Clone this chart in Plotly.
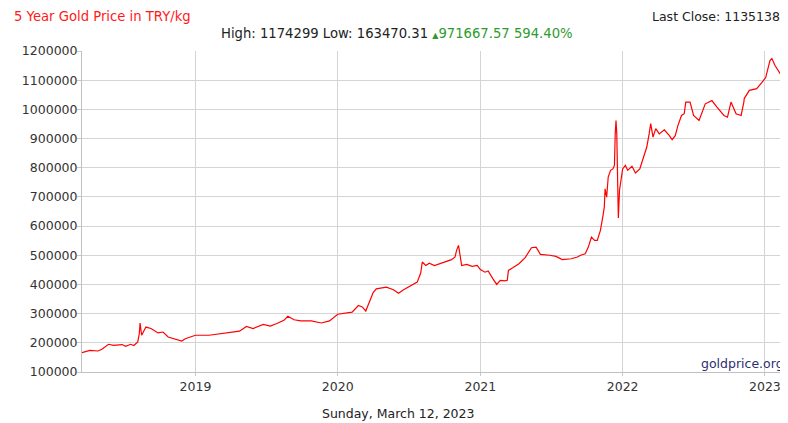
import plotly.graph_objects as go

dates = [
    "2018-03-16", "2018-04-05", "2018-04-26", "2018-05-06", "2018-05-23", "2018-06-05", "2018-06-27",
    "2018-07-06", "2018-07-19", "2018-07-27", "2018-08-06", "2018-08-10", "2018-08-12", "2018-08-16",
    "2018-08-27", "2018-09-09", "2018-09-27", "2018-10-10", "2018-10-23", "2018-11-09", "2018-11-27",
    "2018-12-06", "2019-01-01", "2019-02-05", "2019-02-22", "2019-03-12", "2019-03-29", "2019-04-24",
    "2019-05-12", "2019-05-29", "2019-06-24", "2019-07-12", "2019-07-29", "2019-08-16", "2019-08-26",
    "2019-09-11", "2019-09-28", "2019-10-25", "2019-11-20", "2019-12-11", "2020-01-01", "2020-01-20",
    "2020-02-07", "2020-02-23", "2020-03-04", "2020-03-13", "2020-03-22", "2020-04-01", "2020-04-09",
    "2020-04-22", "2020-05-05", "2020-05-23", "2020-06-05", "2020-06-18", "2020-07-14", "2020-07-23",
    "2020-08-01", "2020-08-05", "2020-08-14", "2020-08-23", "2020-09-05", "2020-09-23", "2020-10-06",
    "2020-10-19", "2020-10-28", "2020-11-01", "2020-11-06", "2020-11-10", "2020-11-14", "2020-11-27",
    "2020-12-11", "2020-12-24", "2021-01-01", "2021-01-13", "2021-01-21", "2021-02-02", "2021-02-12",
    "2021-02-21", "2021-03-05", "2021-03-11", "2021-03-14", "2021-03-25", "2021-04-10", "2021-04-26",
    "2021-05-12", "2021-05-24", "2021-06-04", "2021-06-28", "2021-07-14", "2021-07-30", "2021-08-22",
    "2021-09-07", "2021-09-15", "2021-09-27", "2021-10-05", "2021-10-13", "2021-10-21", "2021-10-28",
    "2021-11-05", "2021-11-11", "2021-11-15", "2021-11-17", "2021-11-21", "2021-11-25", "2021-12-01",
    "2021-12-07", "2021-12-11", "2021-12-13", "2021-12-15", "2021-12-17", "2021-12-19", "2021-12-21",
    "2021-12-24", "2021-12-28", "2022-01-01", "2022-01-08", "2022-01-14", "2022-01-25", "2022-02-03",
    "2022-02-14", "2022-02-25", "2022-03-04", "2022-03-10", "2022-03-14", "2022-03-20", "2022-03-27",
    "2022-04-05", "2022-04-18", "2022-05-01", "2022-05-08", "2022-05-16", "2022-05-23", "2022-06-01",
    "2022-06-08", "2022-06-12", "2022-06-23", "2022-07-02", "2022-07-16", "2022-08-01", "2022-08-18",
    "2022-08-31", "2022-09-18", "2022-09-27", "2022-10-06", "2022-10-19", "2022-11-01", "2022-11-08",
    "2022-11-09", "2022-11-22", "2022-12-11", "2022-12-24", "2023-01-03", "2023-01-14", "2023-01-19",
    "2023-01-27", "2023-02-04", "2023-02-12", "2023-02-19",
]

prices = [
    166000, 174000, 172000, 178000, 195000, 191000, 194000,
    188000, 195000, 191000, 203000, 231000, 268000, 226000,
    254000, 249000, 234000, 237000, 220000, 214000, 206000,
    214000, 226000, 226000, 229000, 231000, 235000, 240000,
    256000, 249000, 263000, 257000, 266000, 277000, 291000,
    279000, 275000, 275000, 268000, 275000, 298000, 302000,
    305000, 328000, 323000, 309000, 340000, 372000, 385000,
    388000, 391000, 382000, 370000, 382000, 400000, 408000,
    439000, 477000, 465000, 473000, 465000, 473000, 480000,
    485000, 494000, 517000, 534000, 494000, 465000, 469000,
    462000, 465000, 451000, 442000, 446000, 420000, 400000,
    414000, 412000, 414000, 448000, 457000, 471000, 492000,
    526000, 528000, 503000, 500000, 496000, 485000, 488000,
    494000, 500000, 505000, 528000, 562000, 551000, 551000,
    585000, 631000, 665000, 728000, 699000, 768000, 791000,
    796000, 808000, 916000, 962000, 916000, 723000, 628000,
    723000, 762000, 796000, 808000, 791000, 805000, 782000,
    796000, 842000, 871000, 916000, 951000, 905000, 934000,
    916000, 930000, 910000, 896000, 910000, 945000, 979000,
    985000, 1025000, 1025000, 979000, 962000, 1019000, 1030000,
    1008000, 979000, 973000, 1025000, 985000, 979000, 1025000,
    1037000, 1065000, 1071000, 1092000, 1109000, 1167000, 1174299,
    1150000, 1133000, 1116000, 1109000,
]

year_ticks = ["2019-01-01", "2020-01-01", "2021-01-01", "2022-01-01", "2023-01-01"]
year_labels = ["2019", "2020", "2021", "2022", "2023"]
y_ticks = [100000, 200000, 300000, 400000, 500000, 600000, 700000, 800000, 900000, 1000000, 1100000, 1200000]

FONT = "DejaVu Sans"

fig = go.Figure()
fig.add_trace(go.Scatter(x=dates, y=prices, mode="lines",
                         line=dict(color="#ff0000", width=1.2), showlegend=False))

fig.update_layout(
    width=780, height=415, autosize=False,
    margin=dict(l=74, r=4, t=43, b=51),
    paper_bgcolor="white", plot_bgcolor="white",
    font=dict(family=FONT, size=12, color="#333333"),
    xaxis=dict(type="date", range=["2018-03-16", "2023-02-19"],
               tickvals=year_ticks, ticktext=year_labels,
               showgrid=True, gridcolor="#d4d4d4", gridwidth=1,
               showline=True, linecolor="#c0c0c0", linewidth=1,
               ticks="outside", ticklen=3, tickcolor="#c8c8c8",
               tickfont=dict(family=FONT, size=12.5, color="#333333"), zeroline=False),
    yaxis=dict(range=[100000, 1200000], tickvals=y_ticks, tickformat="d",
               showgrid=True, gridcolor="#d4d4d4", gridwidth=1,
               showline=True, linecolor="#c0c0c0", linewidth=1,
               ticks="outside", ticklen=4, tickcolor="#c8c8c8",
               ticklabelstandoff=-3,
               tickfont=dict(family=FONT, size=12.5, color="#333333"), zeroline=False),
)

ann = [
    dict(text="5 Year Gold Price in TRY/kg", x=-0.0997, y=1.106, xanchor="left", yanchor="middle",
         font=dict(family=FONT, size=13.2, color="#ff1a1a")),
    dict(text="High: 1174299 Low: 163470.31 <span style='color:#2e9b2e'><span style='font-size:8px'>▲</span>971667.57 594.40%</span>",
         x=0.4487, y=1.053, xanchor="center", yanchor="middle",
         font=dict(family=FONT, size=13.2, color="#222222")),
    dict(text="Last Close: 1135138", x=0.997, y=1.106, xanchor="right", yanchor="middle",
         font=dict(family=FONT, size=12.5, color="#222222")),
    dict(text="goldprice.org", x=1.003, y=0.028, xanchor="right", yanchor="middle",
         font=dict(family=FONT, size=12.5, color="#2e2e6e")),
    dict(text="Sunday, March 12, 2023", x=0.45, y=-0.128, xanchor="center", yanchor="middle",
         font=dict(family=FONT, size=12.5, color="#222222")),
]
for a in ann:
    a.update(xref="paper", yref="paper", showarrow=False)
fig.update_layout(annotations=ann)

fig.write_html("out.html")
